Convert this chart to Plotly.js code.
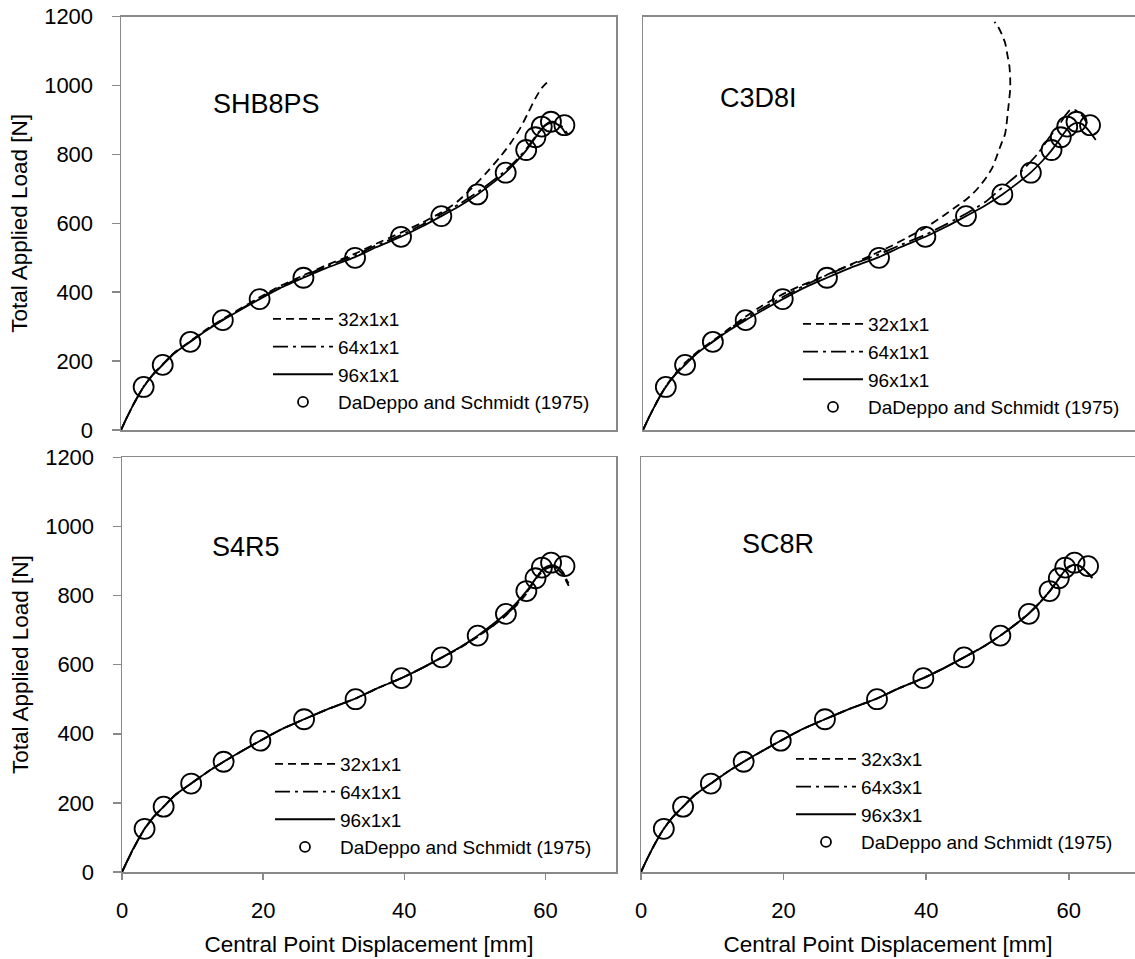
<!DOCTYPE html>
<html>
<head>
<meta charset="utf-8">
<script src="https://cdn.plot.ly/plotly-3.0.1.min.js"></script>
<style>
  html, body { margin: 0; padding: 0; background: #ffffff; }
  #chart { width: 1135px; height: 959px; }
</style>
</head>
<body>
<div id="chart"></div>
<script>
// ---------- Reference data: DaDeppo and Schmidt (1975) ----------
const expDisp = [3.2, 5.9, 9.8, 14.4, 19.6, 25.8, 33.1, 39.6, 45.3, 50.4, 54.4, 57.3, 58.6, 59.5, 60.8, 62.7];
const expLoad = [125, 189, 256, 319, 380, 442, 500, 561, 621, 684, 747, 813, 850, 881, 895, 885];

// ---------- SHB8PS ----------
const shb32X = [0, 0.8, 1.6, 2.4, 3.2, 4.5, 5.9, 7.5, 9.8, 12, 14.4, 17, 19.6, 22.5, 25.8, 29, 33.1, 36, 39.6, 42.5, 45.3, 47.5, 49.5, 51.5, 53.5, 55, 56.5, 57.5, 58.6, 59.5, 60.4];
const shb32Y = [0, 35, 68, 98, 126, 161, 191, 224, 258, 291, 322, 354, 385, 418, 449, 478, 512, 540, 573, 601, 632, 662, 700, 743, 790, 830, 878, 918, 963, 993, 1012];
const shb64X = [0, 0.8, 1.6, 2.4, 3.2, 4.5, 5.9, 7.5, 9.8, 12, 14.4, 17, 19.6, 22.5, 25.8, 29, 33.1, 36, 39.6, 42.5, 45.3, 48, 50.4, 52.5, 54.4, 56, 57.3, 58.3, 59.2, 60, 60.8, 61.6, 62.4, 63.2];
const shb64Y = [0, 35, 68, 98, 126, 161, 190, 223, 257, 289, 321, 352, 383, 415, 446, 475, 507, 535, 566, 595, 627, 658, 690, 722, 754, 786, 816, 843, 868, 886, 895, 893, 880, 858];
const shb96X = [0, 0.8, 1.6, 2.4, 3.2, 4.5, 5.9, 7.5, 9.8, 12, 14.4, 17, 19.6, 22.5, 25.8, 29, 33.1, 36, 39.6, 42.5, 45.3, 48, 50.4, 52.5, 54.4, 56, 57.3, 58.3, 59.2, 60, 60.8, 61.6, 62.4, 62.9];
const shb96Y = [0, 35, 68, 98, 125, 160, 189, 222, 256, 288, 319, 350, 380, 412, 442, 470, 502, 530, 561, 590, 621, 652, 684, 716, 748, 781, 812, 840, 866, 884, 892, 889, 876, 860];

// ---------- C3D8I ----------
const c3d32X = [0, 0.8, 1.6, 2.4, 3.2, 4.5, 6, 8, 10, 12, 14.1, 16.5, 19.2, 22, 24.4, 27, 29.5, 32, 34.6, 37, 39.8, 42, 43.9, 45.2, 46.3, 47.3, 48.2, 49, 49.6, 50.2, 50.8, 51.2, 51.5, 51.5, 51.4, 51.1, 50.8, 50.3, 49.8, 49.3];
const c3d32Y = [0, 35, 68, 99, 127, 163, 197, 233, 262, 293, 325, 358, 390, 418, 438, 462, 484, 507, 532, 558, 590, 620, 648, 667, 687, 710, 735, 762, 794, 828, 861, 929, 990, 1020, 1055, 1090, 1123, 1150, 1171, 1185];
const c3d64X = [0, 0.8, 1.6, 2.4, 3.2, 4.5, 6, 8, 10, 12, 14.4, 17, 19.6, 22.5, 25.8, 29, 33.1, 36, 39.6, 42.5, 45.3, 48, 50.5, 53, 55.4, 57, 58.5, 59.3, 59.9, 60.5, 61.0, 61.7, 62.3];
const c3d64Y = [0, 35, 68, 99, 126, 161, 193, 230, 260, 292, 324, 356, 386, 418, 450, 478, 510, 536, 567, 597, 628, 662, 706, 750, 803, 850, 890, 915, 929, 930, 924, 910, 890];
const c3d96X = [0, 0.8, 1.6, 2.4, 3.2, 4.5, 5.9, 7.5, 9.8, 12, 14.4, 17, 19.6, 22.5, 25.8, 29, 33.1, 36, 39.6, 42.5, 45.3, 48, 50.4, 52.5, 54.4, 56, 57.3, 58.3, 59.2, 60, 60.8, 61.6, 62.5, 63.5];
const c3d96Y = [0, 35, 68, 98, 125, 160, 189, 222, 256, 288, 319, 350, 380, 412, 442, 470, 502, 530, 561, 590, 621, 652, 684, 716, 748, 781, 812, 840, 866, 884, 892, 888, 870, 842];

// ---------- S4R5 ----------
const s4r32X = [0, 0.8, 1.6, 2.4, 3.2, 4.5, 5.9, 7.5, 9.8, 12, 14.4, 17, 19.6, 22.5, 25.8, 29, 33.1, 36, 39.6, 42.5, 45.3, 48, 50.4, 52.5, 54.4, 56, 57.3, 58.3, 59.2, 60, 60.8, 61.6, 62.4, 63, 63.3];
const s4r32Y = [0, 33, 66, 97, 124, 159, 189, 222, 256, 288, 319, 350, 380, 412, 442, 470, 502, 530, 561, 590, 620, 650, 681, 711, 742, 774, 805, 838, 862, 876, 882, 877, 862, 840, 828];
const s4r64X = [0, 0.8, 1.6, 2.4, 3.2, 4.5, 5.9, 7.5, 9.8, 12, 14.4, 17, 19.6, 22.5, 25.8, 29, 33.1, 36, 39.6, 42.5, 45.3, 48, 50.4, 52.5, 54.4, 56, 57.3, 58.3, 59.2, 60, 60.8, 61.6, 62.4, 63, 63.3];
const s4r64Y = [0, 34, 67, 97, 125, 160, 189, 222, 256, 288, 319, 350, 380, 412, 442, 470, 502, 530, 561, 590, 620, 651, 682, 712, 744, 776, 807, 840, 864, 878, 884, 880, 866, 846, 835];
const s4r96X = [0, 0.8, 1.6, 2.4, 3.2, 4.5, 5.9, 7.5, 9.8, 12, 14.4, 17, 19.6, 22.5, 25.8, 29, 33.1, 36, 39.6, 42.5, 45.3, 48, 50.4, 52.5, 54.4, 56, 57.3, 58.3, 59.2, 60, 60.8, 61.6, 62.4, 62.8];
const s4r96Y = [0, 35, 68, 98, 125, 160, 189, 222, 256, 288, 319, 350, 380, 412, 442, 470, 502, 530, 561, 590, 621, 652, 684, 716, 748, 781, 812, 840, 866, 882, 888, 884, 870, 855];

// ---------- SC8R ----------
const sc8r32X = [0, 0.8, 1.6, 2.4, 3.2, 4.5, 5.9, 7.5, 9.8, 12, 14.4, 17, 19.6, 22.5, 25.8, 29, 33.1, 36, 39.6, 42.5, 45.3, 48, 50.4, 52.5, 54.4, 56, 57.3, 58.3, 59.2, 60, 60.8, 61.6, 62.4, 63.3];
const sc8r32Y = [0, 35, 68, 98, 125, 160, 189, 222, 256, 288, 319, 350, 380, 412, 442, 470, 502, 530, 561, 590, 621, 652, 684, 716, 748, 781, 812, 840, 865, 882, 888, 884, 870, 850];
const sc8r64X = [0, 0.8, 1.6, 2.4, 3.2, 4.5, 5.9, 7.5, 9.8, 12, 14.4, 17, 19.6, 22.5, 25.8, 29, 33.1, 36, 39.6, 42.5, 45.3, 48, 50.4, 52.5, 54.4, 56, 57.3, 58.3, 59.2, 60, 60.8, 61.6, 62.4, 63.3];
const sc8r64Y = [0, 35, 68, 98, 125, 160, 189, 222, 256, 288, 319, 350, 380, 412, 442, 470, 502, 530, 561, 590, 621, 652, 684, 716, 748, 781, 812, 840, 866, 883, 889, 885, 871, 852];
const sc8r96X = [0, 0.8, 1.6, 2.4, 3.2, 4.5, 5.9, 7.5, 9.8, 12, 14.4, 17, 19.6, 22.5, 25.8, 29, 33.1, 36, 39.6, 42.5, 45.3, 48, 50.4, 52.5, 54.4, 56, 57.3, 58.3, 59.2, 60, 60.8, 61.6, 62.4, 63.2];
const sc8r96Y = [0, 35, 68, 98, 125, 160, 189, 222, 256, 288, 319, 350, 380, 412, 442, 470, 502, 530, 561, 590, 621, 652, 684, 716, 748, 781, 812, 840, 866, 884, 889, 885, 871, 853];

// ---------- Labels ----------
const panelNames = ["SHB8PS", "C3D8I", "S4R5", "SC8R"];
const meshNamesA = ["32x1x1", "64x1x1", "96x1x1"];
const meshNamesB = ["32x3x1", "64x3x1", "96x3x1"];
const expName = "DaDeppo and Schmidt (1975)";
const xTickVals = [0, 20, 40, 60];
const yTickVals = [0, 200, 400, 600, 800, 1000, 1200];
const xTitle = "Central Point Displacement [mm]";
const yTitle = "Total Applied Load [N]";

// ---------- Build ----------
const W = 1135, H = 959;
const FONT = "'Liberation Sans', Arial, sans-serif";
const AXC = "#898989";
const dashStyle = "8px,5px";
const dashDotStyle = "15px,5px,3px,5px";

const panels = [
  {sets: [[shb32X, shb32Y], [shb64X, shb64Y], [shb96X, shb96Y]], names: meshNamesA, xa: "x", ya: "y", lg: "legend"},
  {sets: [[c3d32X, c3d32Y], [c3d64X, c3d64Y], [c3d96X, c3d96Y]], names: meshNamesA, xa: "x2", ya: "y2", lg: "legend2"},
  {sets: [[s4r32X, s4r32Y], [s4r64X, s4r64Y], [s4r96X, s4r96Y]], names: meshNamesA, xa: "x3", ya: "y3", lg: "legend3"},
  {sets: [[sc8r32X, sc8r32Y], [sc8r64X, sc8r64Y], [sc8r96X, sc8r96Y]], names: meshNamesB, xa: "x4", ya: "y4", lg: "legend4"}
];
const dashes = [dashStyle, dashDotStyle, "solid"];

const traces = [];
panels.forEach(p => {
  p.sets.forEach((s, i) => {
    traces.push({
      type: "scatter", mode: "lines", x: s[0], y: s[1],
      name: p.names[i], xaxis: p.xa, yaxis: p.ya, legend: p.lg,
      line: {color: "#000", width: 1.8, dash: dashes[i], shape: "spline", smoothing: 0.6},
      hoverinfo: "skip"
    });
  });
  // experimental points (drawn on the plot, legend entry provided by the proxy below)
  traces.push({
    type: "scatter", mode: "markers", x: expDisp, y: expLoad,
    name: expName, xaxis: p.xa, yaxis: p.ya, legend: p.lg, showlegend: false,
    marker: {symbol: "circle-open", size: 20, color: "#000", line: {width: 1.8, color: "#000"}},
    hoverinfo: "skip"
  });
  // legend-only entry with the small circle symbol used in the reference legend
  traces.push({
    type: "scatter", mode: "markers", x: [null], y: [null],
    name: expName, xaxis: p.xa, yaxis: p.ya, legend: p.lg, showlegend: true,
    marker: {symbol: "circle-open", size: 10, color: "#000", line: {width: 1.8, color: "#000"}},
    hoverinfo: "skip"
  });
});

const px = v => v / W;
const py = v => 1 - v / H;

const topDom = [py(430), py(16.7)];
const botDom = [py(872), py(457.3)];
const leftTopDom = [px(121), px(616)];
const leftBotDom = [px(122), px(616)];
const rightTopDom = [px(643), 1];
const rightBotDom = [px(641), 1];
const xScale = 7.13;

function xAxis(dom, range, anchor, showLabels) {
  return {
    domain: dom, range: range, anchor: anchor, showline: true, linecolor: AXC, linewidth: 1.5, mirror: true,
    showgrid: false, zeroline: false,
    ticks: showLabels ? "outside" : "", ticklen: 6, tickcolor: AXC, tickwidth: 1.5,
    tickvals: xTickVals, showticklabels: showLabels, ticklabelstandoff: 12,
    tickfont: {family: FONT, size: 22, color: "#000"},
    title: showLabels ? {text: xTitle, font: {family: FONT, size: 22.5, color: "#000"}, standoff: 14} : {text: ""},
    fixedrange: true
  };
}
function yAxis(dom, anchor, showLabels, mirror) {
  return {
    domain: dom, range: [0, 1200], anchor: anchor, showline: true, linecolor: AXC, linewidth: 1.5, mirror: mirror,
    showgrid: false, zeroline: false,
    ticks: showLabels ? "outside" : "", ticklen: 8, tickcolor: AXC, tickwidth: 1.5,
    tickvals: yTickVals, showticklabels: showLabels, ticklabelstandoff: 14,
    tickfont: {family: FONT, size: 22, color: "#000"},
    title: showLabels ? {text: yTitle, font: {family: FONT, size: 22.5, color: "#000"}, standoff: 10} : {text: ""},
    fixedrange: true
  };
}

function legendAt(xPix, yTopPix) {
  return {
    x: px(xPix), y: py(yTopPix), xanchor: "left", yanchor: "top",
    bgcolor: "rgba(0,0,0,0)", borderwidth: 0,
    font: {family: FONT, size: 19, color: "#000"},
    itemwidth: 60, tracegroupgap: 0, traceorder: "normal",
    itemclick: false, itemdoubleclick: false
  };
}

const annFont = {family: FONT, size: 27, color: "#000"};
const labelPos = [[266, 104], [758, 97.5], [246, 547], [778, 544]];

const layout = {
  width: W, height: H,
  margin: {l: 0, r: 0, t: 0, b: 0},
  paper_bgcolor: "#fff", plot_bgcolor: "#fff",
  font: {family: FONT, color: "#000"},
  showlegend: true,
  xaxis: xAxis(leftTopDom, [0, 70], "y", false),
  yaxis: yAxis(topDom, "x", true, true),
  xaxis2: xAxis(rightTopDom, [0, (W - 643) / xScale], "y2", false),
  yaxis2: yAxis(topDom, "x2", false, false),
  xaxis3: xAxis(leftBotDom, [0, 70], "y3", true),
  yaxis3: yAxis(botDom, "x3", true, true),
  xaxis4: xAxis(rightBotDom, [0, (W - 641) / xScale], "y4", true),
  yaxis4: yAxis(botDom, "x4", false, false),
  legend: legendAt(268, 300),
  legend2: legendAt(798, 305),
  legend3: legendAt(270, 745),
  legend4: legendAt(791, 740),
  annotations: panelNames.map((t, i) => ({
    text: t, xref: "paper", yref: "paper",
    x: px(labelPos[i][0]), y: py(labelPos[i][1]),
    xanchor: "center", yanchor: "middle", showarrow: false, font: annFont
  }))
};

Plotly.newPlot("chart", traces, layout, {displayModeBar: false, staticPlot: true});
</script>
</body>
</html>
